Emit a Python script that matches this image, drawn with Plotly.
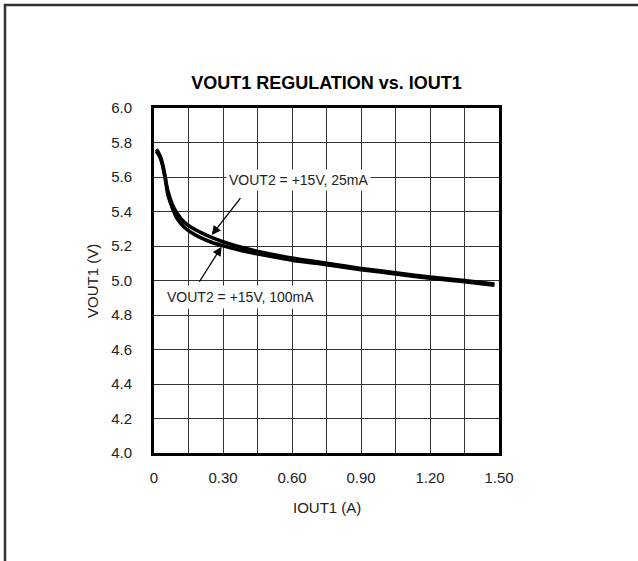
import plotly.graph_objects as go

# ---- data ----
iout1 = [0.01, 0.02, 0.03, 0.04, 0.05, 0.06, 0.08, 0.10, 0.13, 0.16, 0.20, 0.25,
         0.30, 0.40, 0.50, 0.60, 0.75, 0.90, 1.05, 1.20, 1.35, 1.48]
vout1_25mA = [5.76, 5.74, 5.71, 5.66, 5.59, 5.52, 5.44, 5.39, 5.34, 5.31, 5.28, 5.25,
              5.225, 5.185, 5.155, 5.13, 5.10, 5.07, 5.045, 5.02, 5.00, 4.98]
vout1_100mA = [5.75, 5.73, 5.70, 5.65, 5.58, 5.50, 5.42, 5.36, 5.31, 5.28, 5.25, 5.222,
               5.202, 5.168, 5.142, 5.118, 5.092, 5.063, 5.038, 5.013, 4.993, 4.973]

x_tickvals = [0, 0.30, 0.60, 0.90, 1.20, 1.50]
x_ticktext = ["0", "0.30", "0.60", "0.90", "1.20", "1.50"]
y_tickvals = [4.0, 4.2, 4.4, 4.6, 4.8, 5.0, 5.2, 5.4, 5.6, 5.8, 6.0]
y_ticktext = ["4.0", "4.2", "4.4", "4.6", "4.8", "5.0", "5.2", "5.4", "5.6", "5.8", "6.0"]

title_text = "VOUT1 REGULATION vs. IOUT1"
x_title = "IOUT1 (A)"
y_title = "VOUT1 (V)"
label_25 = "VOUT2 = +15V, 25mA"
label_100 = "VOUT2 = +15V, 100mA"

FONT = "Liberation Sans Narrow, Arial Narrow, Liberation Sans, Arial, sans-serif"
TXT = "#222222"
GRID = "#333333"

fig = go.Figure()
fig.add_trace(go.Scatter(x=iout1, y=vout1_25mA, mode="lines", name=label_25,
                         line=dict(color="black", width=3.6, shape="spline", smoothing=0.6)))
fig.add_trace(go.Scatter(x=iout1, y=vout1_100mA, mode="lines", name=label_100,
                         line=dict(color="black", width=3.6, shape="spline", smoothing=0.6)))

W, H = 638, 561
L, R, T, B = 154, 139, 108, 108

fig.update_layout(
    width=W, height=H,
    margin=dict(l=L, r=R, t=T, b=B, pad=0),
    paper_bgcolor="white", plot_bgcolor="white",
    showlegend=False,
    font=dict(family=FONT, size=15, color=TXT),
    title=dict(text="<b>" + title_text + "</b>", x=0.5, xref="paper",
               y=1 - 83 / H, yref="container", yanchor="middle", xanchor="center",
               font=dict(family=FONT, size=18, color="black")),
)

fig.update_xaxes(
    range=[0, 1.5], tickvals=x_tickvals, ticktext=x_ticktext,
    showgrid=True, gridcolor=GRID, gridwidth=1,
    minor=dict(dtick=0.15, tick0=0, showgrid=True, gridcolor=GRID, gridwidth=1),
    showline=True, linecolor="black", linewidth=3, mirror=True,
    ticks="", ticklabelstandoff=9, zeroline=False,
    tickfont=dict(family=FONT, size=15, color=TXT),
)
fig.update_yaxes(
    range=[4.0, 6.0], tickvals=y_tickvals, ticktext=y_ticktext,
    showgrid=True, gridcolor=GRID, gridwidth=1,
    showline=True, linecolor="black", linewidth=3, mirror=True,
    ticks="", ticklabelstandoff=16, zeroline=False,
    tickfont=dict(family=FONT, size=15, color=TXT),
)

def px_to_paper_x(px):
    return (px - L) / (W - L - R)

def px_to_paper_y(py):
    return (H - B - py) / (H - T - B)

annotations = [
    # axis titles
    dict(text=x_title, xref="paper", yref="paper", x=px_to_paper_x(327), y=px_to_paper_y(507),
         showarrow=False, xanchor="center", yanchor="middle", font=dict(size=15, color=TXT)),
    dict(text=y_title, xref="paper", yref="paper", x=px_to_paper_x(92), y=px_to_paper_y(281),
         showarrow=False, xanchor="center", yanchor="middle", textangle=-90,
         font=dict(size=15, color=TXT)),
    # curve labels with white background
    dict(text=label_25, xref="x", yref="y", x=0.628, y=5.585, showarrow=False,
         bgcolor="white", borderpad=2, font=dict(size=14, color=TXT)),
    dict(text=label_100, xref="x", yref="y", x=0.378, y=4.904, showarrow=False,
         bgcolor="white", borderpad=3, font=dict(size=14, color=TXT)),
    # arrows
    dict(text="", xref="x", yref="y", axref="x", ayref="y",
         x=0.251, y=5.264, ax=0.381, ay=5.486,
         showarrow=True, arrowhead=2, arrowsize=1.4, arrowwidth=1.3, arrowcolor="black"),
    dict(text="", xref="x", yref="y", axref="x", ayref="y",
         x=0.294, y=5.196, ax=0.193, ay=4.984,
         showarrow=True, arrowhead=2, arrowsize=1.4, arrowwidth=1.3, arrowcolor="black"),
]
fig.update_layout(annotations=annotations)

# outer frame (left and top edges)
x0 = px_to_paper_x(5)
y0 = px_to_paper_y(5)
yb = px_to_paper_y(570)
xr = px_to_paper_x(645)
fig.add_shape(type="path", xref="paper", yref="paper",
              path=f"M {x0},{yb} L {x0},{y0} L {xr},{y0}",
              line=dict(color="#333333", width=2.5), layer="above")

fig.write_html("out.html", config={"displayModeBar": False},
               post_script="document.body.style.margin='0';document.body.style.overflow='hidden';")
